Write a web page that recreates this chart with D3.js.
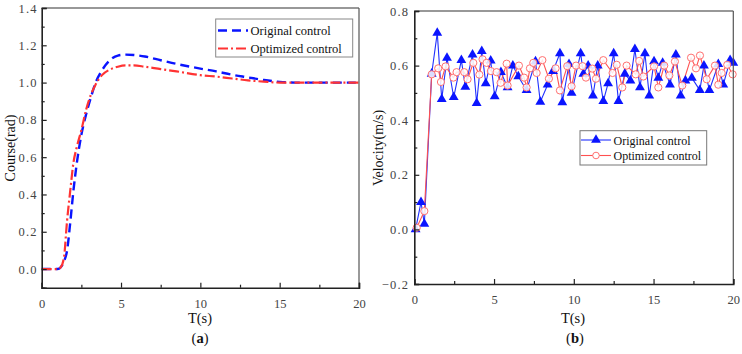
<!DOCTYPE html>
<html><head><meta charset="utf-8">
<script src="https://cdn.jsdelivr.net/npm/d3@7"></script>
<style>
html,body{margin:0;padding:0;background:#fff;}
svg{display:block;}
</style></head>
<body>
<svg id="c" width="742" height="354" style="font-family:'Liberation Serif','DejaVu Serif',serif"></svg>
<script>
// ---- Chart (a): course ----
const courseT = [0, 0.5, 1.0, 1.2, 1.4, 1.6, 1.8, 2.0, 2.2, 2.5, 2.8, 3.1, 3.4, 3.8, 4.3, 4.8, 5.3, 5.8, 6.5, 7.5, 8.5, 10, 11, 12, 13, 14, 15, 16, 17, 18, 20];
const courseOriginal = [0, 0, 0, 0.01, 0.04, 0.10, 0.25, 0.42, 0.56, 0.72, 0.83, 0.92, 1.0, 1.066, 1.12, 1.145, 1.15, 1.148, 1.14, 1.12, 1.10, 1.075, 1.06, 1.042, 1.028, 1.014, 1.004, 1.0, 1.0, 1.0, 1.0];
const courseOptimized = [0, 0, 0, 0.01, 0.06, 0.26, 0.42, 0.57, 0.65, 0.745, 0.855, 0.935, 0.99, 1.04, 1.07, 1.085, 1.092, 1.092, 1.085, 1.072, 1.06, 1.04, 1.032, 1.022, 1.012, 1.005, 1.0, 1.0, 1.0, 1.0, 1.0];
const courseYTicks = [0.0, 0.2, 0.4, 0.6, 0.8, 1.0, 1.2, 1.4];
const xTicks = [0, 5, 10, 15, 20];

// ---- Chart (b): velocity ----
const velOrigT = [0.08, 0.42, 0.63, 1.09, 1.44, 1.72, 2.05, 2.47, 2.95, 3.2, 3.65, 3.91, 4.23, 4.48, 4.79, 5.04, 5.43, 5.85, 6.18, 6.52, 7.04, 7.6, 7.9, 8.36, 8.7, 9.13, 9.28, 9.7, 9.86, 10.43, 10.6, 10.9, 11.2, 11.5, 11.85, 12.15, 12.5, 12.8, 13.2, 13.55, 13.83, 14.15, 14.46, 14.73, 15.03, 15.3, 15.57, 16.03, 16.4, 16.7, 17.0, 17.4, 17.9, 18.16, 18.5, 19.06, 19.37, 19.8, 20.0];
const velOrig = [0.0, 0.10, 0.02, 0.57, 0.72, 0.477, 0.628, 0.484, 0.62, 0.522, 0.64, 0.462, 0.653, 0.535, 0.618, 0.487, 0.576, 0.52, 0.60, 0.56, 0.51, 0.615, 0.467, 0.53, 0.58, 0.645, 0.465, 0.605, 0.50, 0.645, 0.57, 0.60, 0.49, 0.60, 0.47, 0.535, 0.645, 0.47, 0.57, 0.545, 0.66, 0.52, 0.645, 0.49, 0.615, 0.555, 0.61, 0.53, 0.64, 0.49, 0.545, 0.555, 0.51, 0.60, 0.51, 0.605, 0.53, 0.62, 0.61];
const velOptT = [0.15, 0.63, 1.09, 1.5, 1.67, 1.96, 2.45, 2.65, 3.13, 3.34, 3.7, 4.08, 4.28, 4.53, 4.8, 5.16, 5.41, 5.79, 5.85, 6.56, 6.88, 7.04, 7.25, 7.46, 7.67, 8.03, 8.44, 8.86, 9.13, 9.59, 9.86, 10.14, 10.55, 10.76, 11.16, 11.39, 11.85, 12.43, 12.69, 13.04, 13.31, 13.88, 14.1, 14.36, 15.03, 15.3, 15.67, 15.99, 16.34, 16.8, 17.35, 17.66, 17.91, 18.33, 18.85, 19.06, 19.27, 19.62, 19.96];
const velOpt = [0.006, 0.067, 0.568, 0.59, 0.54, 0.597, 0.556, 0.576, 0.576, 0.55, 0.61, 0.567, 0.623, 0.61, 0.58, 0.576, 0.537, 0.607, 0.527, 0.60, 0.556, 0.52, 0.59, 0.61, 0.573, 0.62, 0.552, 0.59, 0.509, 0.598, 0.524, 0.60, 0.598, 0.556, 0.589, 0.552, 0.62, 0.573, 0.603, 0.52, 0.60, 0.568, 0.617, 0.56, 0.597, 0.52, 0.60, 0.564, 0.615, 0.527, 0.629, 0.59, 0.637, 0.55, 0.60, 0.53, 0.573, 0.603, 0.568];
const velYTicks = [-0.2, 0.0, 0.2, 0.4, 0.6, 0.8];

const seriesNames = ["Original control", "Optimized control"];

const FONT = "'Liberation Serif','DejaVu Serif',serif";
const svg = d3.select("#c");
svg.append("rect").attr("width", 742).attr("height", 354).attr("fill", "#fff");

function fmt(v) {
  const s = d3.format(".1f")(Math.abs(v));
  return (v < 0 ? "\u2212" : "") + s;
}
function txt(sel) { return sel.style("font-family", FONT); }

function drawFrame(g, x, y, yTicks, yMinor, xMinor, ypad) {
  const [x0, x1] = x.range();
  const [y0, y1] = y.range();
  g.append("line").attr("x1", x0).attr("x2", x1).attr("y1", y1).attr("y2", y1).attr("stroke", "#333").attr("stroke-width", 1.2);
  g.append("line").attr("x1", x1).attr("x2", x1).attr("y1", y1).attr("y2", y0).attr("stroke", "#555").attr("stroke-width", 1.2);
  const xa = g.append("g").attr("transform", `translate(0,${y0})`)
    .call(d3.axisBottom(x).tickValues(xTicks).tickSize(-5).tickPadding(11).tickFormat(d3.format("d")));
  xa.select(".domain").attr("stroke", "#222").attr("stroke-width", 1.6);
  xa.selectAll(".tick line").attr("stroke", "#222").attr("stroke-width", 1.2);
  txt(xa.selectAll("text")).style("font-size", "12.5px").attr("fill", "#444");
  const xm = g.append("g").attr("transform", `translate(0,${y0})`)
    .call(d3.axisBottom(x).tickValues(xMinor).tickSize(-3).tickFormat(""));
  xm.select(".domain").remove();
  xm.selectAll(".tick line").attr("stroke", "#222").attr("stroke-width", 1.2);
  const ya = g.append("g").attr("transform", `translate(${x0},0)`)
    .call(d3.axisLeft(y).tickValues(yTicks).tickSize(-5).tickPadding(ypad).tickFormat(fmt));
  ya.select(".domain").attr("stroke", "#222").attr("stroke-width", 1.6);
  ya.selectAll(".tick line").attr("stroke", "#222").attr("stroke-width", 1.2);
  txt(ya.selectAll("text")).style("font-size", "12.5px").attr("fill", "#444").style("letter-spacing", "1.2px");
  const ym = g.append("g").attr("transform", `translate(${x0},0)`)
    .call(d3.axisLeft(y).tickValues(yMinor).tickSize(-3).tickFormat(""));
  ym.select(".domain").remove();
  ym.selectAll(".tick line").attr("stroke", "#222").attr("stroke-width", 1.2);
}

// ================= Chart (a) =================
const ga = svg.append("g");
const xA = d3.scaleLinear().domain([0, 20]).range([41.7, 359]);
const yA = d3.scaleLinear().domain([-0.1, 1.4]).range([287.7, 8]);
const lineA = (vals) => d3.line().x((d, i) => xA(courseT[i])).y(d => yA(d)).curve(d3.curveMonotoneX)(vals);

ga.append("path").attr("d", lineA(courseOriginal)).attr("fill", "none")
  .attr("stroke", "#0a14ff").attr("stroke-width", 2.4).attr("stroke-dasharray", "9,5");
ga.append("path").attr("d", lineA(courseOptimized)).attr("fill", "none")
  .attr("stroke", "#ff3333").attr("stroke-width", 2.2).attr("stroke-dasharray", "10,3,2,3");

drawFrame(ga, xA, yA, courseYTicks, [-0.1, 0.1, 0.3, 0.5, 0.7, 0.9, 1.1, 1.3], [2.5, 7.5, 12.5, 17.5], 4);

const la = ga.append("g");
la.append("rect").attr("x", 215.7).attr("y", 19).attr("width", 137).attr("height", 38)
  .attr("fill", "#fff").attr("stroke", "#888").attr("stroke-width", 1);
la.append("line").attr("x1", 218).attr("x2", 248).attr("y1", 30.5).attr("y2", 30.5)
  .attr("stroke", "#0a14ff").attr("stroke-width", 2.4).attr("stroke-dasharray", "9,5");
la.append("line").attr("x1", 218).attr("x2", 249).attr("y1", 48.5).attr("y2", 48.5)
  .attr("stroke", "#ff3333").attr("stroke-width", 2.2).attr("stroke-dasharray", "10,3,2,3");
txt(la.selectAll("text.leg").data(seriesNames).enter().append("text"))
  .attr("x", 250.5).attr("y", (d, i) => 35 + i * 18).style("font-size", "12.5px").attr("fill", "#111").text(d => d);

txt(ga.append("text")).attr("transform", "translate(15,148) rotate(-90)").attr("text-anchor", "middle")
  .style("font-size", "14px").attr("fill", "#111").text("Course(rad)");
txt(ga.append("text")).attr("x", 200).attr("y", 323).attr("text-anchor", "middle")
  .style("font-size", "14.5px").attr("fill", "#111").text("T(s)");
const capA = txt(ga.append("text")).attr("x", 200).attr("y", 343).attr("text-anchor", "middle")
  .style("font-size", "14.5px").attr("fill", "#111");
capA.append("tspan").text("(");
capA.append("tspan").attr("font-weight", "bold").text("a");
capA.append("tspan").text(")");

// ================= Chart (b) =================
const gb = svg.append("g");
const xB = d3.scaleLinear().domain([0, 20]).range([414.3, 733.3]);
const yB = d3.scaleLinear().domain([-0.2, 0.8]).range([284, 11]);

const lineB = d3.line().x(d => xB(d[0])).y(d => yB(d[1]));
const origPts = velOrigT.map((t, i) => [t, velOrig[i]]);
const optPts = velOptT.map((t, i) => [t, velOpt[i]]);

gb.append("path").attr("d", lineB(origPts)).attr("fill", "none").attr("stroke", "#2030ff").attr("stroke-width", 1.1);
gb.append("path").attr("d", lineB(optPts)).attr("fill", "none").attr("stroke", "#ff5050").attr("stroke-width", 1.1);

const tri = d3.symbol().type(d3.symbolTriangle).size(42);
gb.selectAll("path.tri").data(origPts).enter().append("path")
  .attr("transform", d => `translate(${xB(d[0])},${yB(d[1])})`).attr("d", tri).attr("fill", "#0a14ff");
gb.selectAll("circle.opt").data(optPts).enter().append("circle")
  .attr("cx", d => xB(d[0])).attr("cy", d => yB(d[1])).attr("r", 3.6)
  .attr("fill", "#fff").attr("fill-opacity", 0.85).attr("stroke", "#ff7070").attr("stroke-width", 1);

drawFrame(gb, xB, yB, velYTicks, [-0.1, 0.1, 0.3, 0.5, 0.7], [2.5, 7.5, 12.5, 17.5], 5);

const lb = gb.append("g");
lb.append("rect").attr("x", 580).attr("y", 130.7).attr("width", 126.7).attr("height", 34.3)
  .attr("fill", "#fff").attr("stroke", "#777").attr("stroke-width", 1);
lb.append("line").attr("x1", 581).attr("x2", 611).attr("y1", 140).attr("y2", 140).attr("stroke", "#2030ff").attr("stroke-width", 1.1);
lb.append("path").attr("transform", "translate(596,140)").attr("d", tri).attr("fill", "#0a14ff");
lb.append("line").attr("x1", 581).attr("x2", 611).attr("y1", 155.5).attr("y2", 155.5).attr("stroke", "#ff5050").attr("stroke-width", 1.1);
lb.append("circle").attr("cx", 596).attr("cy", 155.5).attr("r", 3.3).attr("fill", "#fff").attr("stroke", "#ff7070").attr("stroke-width", 1);
txt(lb.selectAll("text.leg").data(seriesNames).enter().append("text"))
  .attr("x", 613.5).attr("y", (d, i) => 144.5 + i * 15.7).style("font-size", "12px").attr("fill", "#111").text(d => d);

txt(gb.append("text")).attr("transform", "translate(383,148) rotate(-90)").attr("text-anchor", "middle")
  .style("font-size", "14px").attr("fill", "#111").text("Velocity(m/s)");
txt(gb.append("text")).attr("x", 573).attr("y", 323).attr("text-anchor", "middle")
  .style("font-size", "14.5px").attr("fill", "#111").text("T(s)");
const capB = txt(gb.append("text")).attr("x", 575).attr("y", 343).attr("text-anchor", "middle")
  .style("font-size", "14.5px").attr("fill", "#111");
capB.append("tspan").text("(");
capB.append("tspan").attr("font-weight", "bold").text("b");
capB.append("tspan").text(")");
</script>
</body></html>
